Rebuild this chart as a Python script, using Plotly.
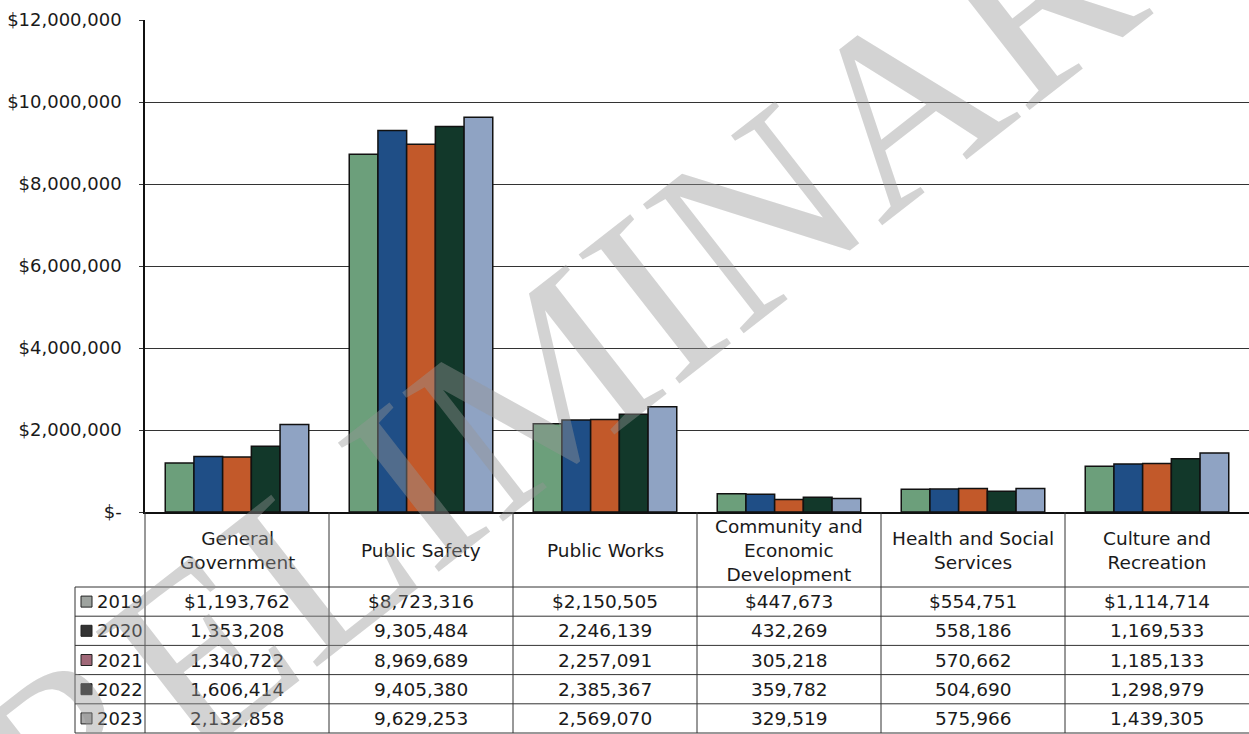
import plotly.graph_objects as go

categories = ["General Government", "Public Safety", "Public Works",
              "Community and Economic Development", "Health and Social Services",
              "Culture and Recreation"]
header_labels = ["General<br>Government", "Public Safety", "Public Works",
                 "Community and<br>Economic<br>Development", "Health and Social<br>Services",
                 "Culture and<br>Recreation"]
years = ["2019", "2020", "2021", "2022", "2023"]
v2019 = [1193762, 8723316, 2150505, 447673, 554751, 1114714]
v2020 = [1353208, 9305484, 2246139, 432269, 558186, 1169533]
v2021 = [1340722, 8969689, 2257091, 305218, 570662, 1185133]
v2022 = [1606414, 9405380, 2385367, 359782, 504690, 1298979]
v2023 = [2132858, 9629253, 2569070, 329519, 575966, 1439305]
series = [v2019, v2020, v2021, v2022, v2023]
y_ticks = [0, 2000000, 4000000, 6000000, 8000000, 10000000, 12000000]

bar_colors = ["#6c9f7b", "#1f4e86", "#c2592a", "#12382a", "#8fa3c3"]
legend_colors = ["#9ea39f", "#333333", "#a06878", "#262626", "#ababab"]

FONT = "DejaVu Sans"
TXT = "#1a1a1a"
W, H = 1249, 734
ML, MR, MT, MB = 145, 0, 20, 222
PW, PH = W - ML - MR, H - MT - MB


def py(Y):  # pixel y -> paper y
    return (H - MB - Y) / PH


def px(X):  # pixel x -> paper x
    return (X - ML) / PW


fig = go.Figure()
for yr, vals, col in zip(years, series, bar_colors):
    fig.add_trace(go.Bar(x=categories, y=vals, name=yr,
                         marker=dict(color=col, line=dict(color="#111", width=1.5))))

ticktext = ["$-" if t == 0 else "${:,}".format(t) for t in y_ticks]

shapes = []
annotations = []

# table geometry
header_bottom = 587
row_h = 29.2
table_bottom = header_bottom + row_h * len(years)
n = len(categories)

# horizontal lines
for k in range(len(years) + 1):
    Y = header_bottom + row_h * k
    shapes.append(dict(type="line", xref="paper", yref="paper", x0=px(75), x1=1,
                       y0=py(Y), y1=py(Y), line=dict(color="#333", width=1)))
# vertical lines
for i in range(n):
    shapes.append(dict(type="line", xref="paper", yref="paper", x0=i / n, x1=i / n,
                       y0=0, y1=py(table_bottom), line=dict(color="#333", width=1)))
shapes.append(dict(type="line", xref="paper", yref="paper", x0=px(75), x1=px(75),
                   y0=py(header_bottom), y1=py(table_bottom), line=dict(color="#333", width=1)))

# header labels
for c, lab in zip(categories, header_labels):
    annotations.append(dict(x=c, xref="x", y=py(550), yref="paper", text=lab,
                            showarrow=False, font=dict(family=FONT, size=18.5, color=TXT),
                            xanchor="center", yanchor="middle"))

# rows
for r, (yr, vals, lc) in enumerate(zip(years, series, legend_colors)):
    Yc = header_bottom + row_h * (r + 0.5)
    shapes.append(dict(type="rect", xref="paper", yref="paper", x0=px(81), x1=px(92),
                       y0=py(Yc + 5.5), y1=py(Yc - 5.5), fillcolor=lc,
                       line=dict(color="#222", width=1)))
    annotations.append(dict(x=px(119.5), xref="paper", y=py(Yc), yref="paper", text=yr,
                            showarrow=False, font=dict(family=FONT, size=18, color=TXT),
                            xanchor="center", yanchor="middle"))
    for c, v in zip(categories, vals):
        s = "{:,}".format(v)
        if r == 0:
            s = "$" + s
        annotations.append(dict(x=c, xref="x", y=py(Yc), yref="paper", text=s,
                                showarrow=False, font=dict(family=FONT, size=18.5, color=TXT),
                                xanchor="center", yanchor="middle"))

# watermark
annotations.append(dict(x=px(565), y=py(365), xref="paper", yref="paper", text="PRELIMINARY",
                        showarrow=False, textangle=-38,
                        font=dict(family="Liberation Serif", size=250, color="rgba(150,150,150,0.42)"),
                        xanchor="center", yanchor="middle"))

fig.update_layout(
    width=W, height=H,
    margin=dict(l=ML, r=MR, t=MT, b=MB, pad=0, autoexpand=False),
    plot_bgcolor="white", paper_bgcolor="white",
    barmode="group", bargap=0.22, bargroupgap=0,
    showlegend=False,
    shapes=shapes, annotations=annotations,
    xaxis=dict(range=[-0.5, n - 0.5], showticklabels=False, ticks="", showgrid=False,
               showline=True, linecolor="#111", linewidth=1.5, zeroline=False,
               automargin=False),
    yaxis=dict(range=[0, 12000000], tickvals=y_ticks, ticktext=ticktext,
               showgrid=True, gridcolor="#333", gridwidth=1,
               showline=True, linecolor="#111", linewidth=1.5,
               ticks="outside", ticklen=4, tickcolor="#333",
               ticklabelstandoff=14, zeroline=False, automargin=False,
               tickfont=dict(family=FONT, size=18, color=TXT)),
)

fig.write_html("out.html", config={"displayModeBar": False},
               post_script="document.body.style.margin='0';")
